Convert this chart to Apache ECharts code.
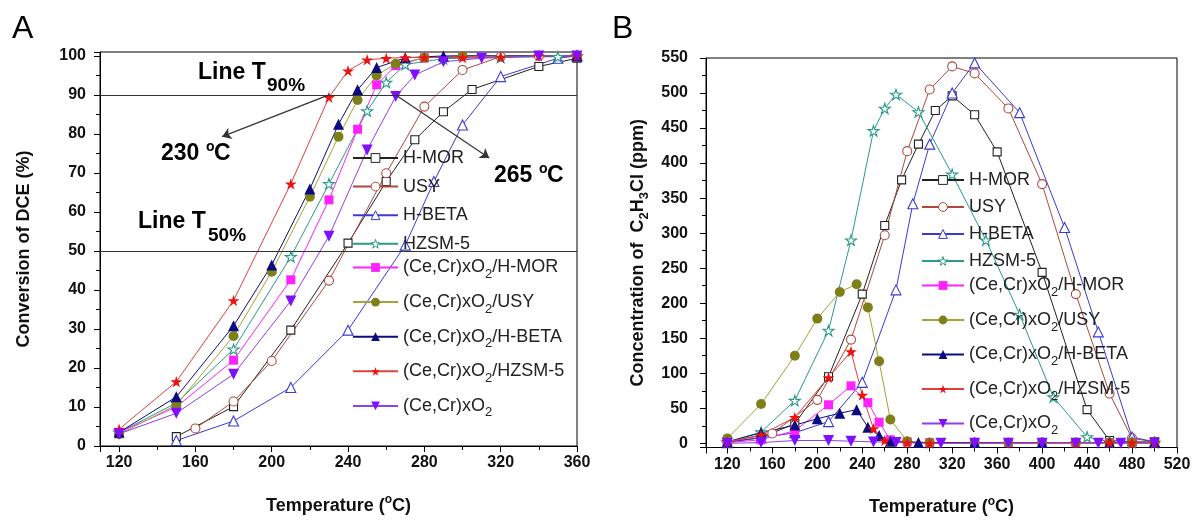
<!DOCTYPE html>
<html><head><meta charset="utf-8">
<script src="https://cdn.jsdelivr.net/npm/echarts@6/dist/echarts.min.js"></script>
<style>html,body{margin:0;padding:0;background:#fff}#c{width:1193px;height:525px}</style>
</head><body><div id="c"></div>
<script>
// ---------- names ----------
const seriesNames = ['H-MOR','USY','H-BETA','HZSM-5','(Ce,Cr)xO2/H-MOR','(Ce,Cr)xO2/USY','(Ce,Cr)xO2/H-BETA','(Ce,Cr)xO2/HZSM-5','(Ce,Cr)xO2'];

// ---------- Panel A: conversion of DCE (%) vs temperature ----------
const convHMor   = [[150,2.4],[180,10.1],[210,29.7],[240,52],[260,67.8],[275,78.5],[290,85.7],[305,91.4],[340,97.3],[360,99.4]];
const convUsy    = [[160,4.5],[180,11.4],[200,21.8],[230,42.4],[260,69.9],[280,87],[300,96.4],[320,99.8],[340,100],[360,100]];
const convHBeta  = [[150,1.4],[180,6.4],[210,15],[240,29.7],[270,51.5],[285,67.8],[300,82.3],[320,94.7],[350,99.4],[360,100]];
const convHzsm   = [[120,3.5],[150,11],[180,24.8],[210,48.5],[230,67.2],[250,85.9],[260,93.2],[270,97.8],[290,99.3],[320,99.6],[350,99.8],[360,100]];
const convCeMor  = [[120,3.5],[150,10],[180,22],[210,42.6],[230,63.1],[245,81.2],[255,92.6],[265,97.5],[280,99.5],[300,100],[360,100]];
const convCeUsy  = [[120,3],[150,10.5],[180,28.2],[200,44.7],[220,63.9],[235,79.3],[245,88.7],[255,95],[265,98],[280,99.5],[300,100],[360,100]];
const convCeBeta = [[120,3.5],[150,12.6],[180,30.8],[200,46.4],[220,65.9],[235,82.5],[245,91.3],[255,97],[270,99.5],[290,100],[360,100]];
const convCeZsm  = [[120,4.3],[150,16.5],[180,37.3],[210,67.2],[230,89.4],[240,96.2],[250,99],[260,99.4],[270,99.6],[280,99.6],[300,99.6],[320,99.7],[340,100],[360,100]];
const convCe     = [[120,3.1],[150,8.4],[180,18.4],[210,37.2],[230,53.8],[250,75.9],[265,89.6],[275,95.1],[290,98.5],[310,99.4],[340,100],[360,100]];

// ---------- Panel B: C2H3Cl concentration (ppm) vs temperature ----------
const ppmHMor   = [[120,2],[150,8],[180,28],[210,95],[240,213],[260,311],[275,376],[290,427],[305,475],[320,496],[340,469],[360,416],[400,244],[440,48],[460,4],[480,2],[500,2]];
const ppmUsy    = [[120,2],[160,14],[200,62],[230,148],[260,297],[280,417],[300,505],[320,538],[340,528],[370,478],[400,370],[430,213],[460,71],[480,7],[500,2]];
const ppmHBeta  = [[120,1],[150,8],[180,15],[210,31],[240,87],[270,219],[285,342],[300,427],[320,500],[340,543],[380,472],[420,308],[450,159],[480,9],[500,2]];
const ppmHzsm   = [[120,2],[150,16],[180,61],[210,161],[230,290],[250,446],[260,478],[270,498],[290,473],[320,384],[350,290],[380,184],[410,66],[440,9],[460,2],[480,1],[500,1]];
const ppmCeMor  = [[120,1],[150,5],[180,18],[210,55],[230,82],[245,58],[255,30],[265,5],[280,2],[300,1],[340,1],[370,1],[400,1],[430,1],[460,1],[480,1],[500,1]];
const ppmCeUsy  = [[120,7],[150,56],[180,125],[200,178],[220,216],[235,227],[245,194],[255,117],[265,34],[280,3],[300,1],[340,1],[370,1],[400,1],[430,1],[460,1],[480,1],[500,1]];
const ppmCeBeta = [[120,2],[150,15],[180,26],[200,35],[220,43],[235,48],[245,23],[255,11],[265,3],[290,1],[340,1],[400,1],[460,1],[500,1]];
const ppmCeZsm  = [[120,2],[150,12],[180,37],[210,94],[230,131],[240,69],[250,21],[260,4],[280,1],[300,0],[430,1],[460,1],[480,1],[500,1]];
const ppmCe     = [[120,0],[150,1],[180,4],[210,4],[230,3],[250,2],[270,1],[310,0],[340,0],[370,0],[400,0],[430,0],[450,0],[470,0],[500,0]];

// ---------- tick labels ----------
const xLabelsA = [120,160,200,240,280,320,360];
const yLabelsA = [0,10,20,30,40,50,60,70,80,90,100];
const xLabelsB = [120,160,200,240,280,320,360,400,440,480,520];
const yLabelsB = [0,50,100,150,200,250,300,350,400,450,500,550];

// ---------- styles ----------
const FONT = "'Liberation Sans', Arial, Helvetica, sans-serif";
const STAR = 'path://M50,0 L61,35 L98,35 L68,57 L79,91 L50,70 L21,91 L32,57 L2,35 L39,35 Z';
const styles = [
  {color:'#222222', symbol:'rect', size:8, empty:true},
  {color:'#b0483c', symbol:'circle', size:9, empty:true},
  {color:'#3a3ad8', symbol:'triangle', size:10, empty:true},
  {color:'#2a9a8a', symbol:STAR, size:11, empty:true},
  {color:'#ff22ff', symbol:'rect', size:9},
  {color:'#7f7f1a', line:'#a3a336', symbol:'circle', size:10},
  {color:'#0c0c80', symbol:'triangle', size:11},
  {color:'#ee1111', line:'#e04040', symbol:STAR, size:12},
  {color:'#7f10ff', line:'#8f3ff0', symbol:'triangle', size:11, rot:180}
];
const dataA = [convHMor, convUsy, convHBeta, convHzsm, convCeMor, convCeUsy, convCeBeta, convCeZsm, convCe];
const dataB = [ppmHMor, ppmUsy, ppmHBeta, ppmHzsm, ppmCeMor, ppmCeUsy, ppmCeBeta, ppmCeZsm, ppmCe];

function mk(i, data, xi, yi) {
  const s = styles[i];
  return {
    type:'line', name: seriesNames[i], data, xAxisIndex:xi, yAxisIndex:yi,
    symbol:s.symbol, symbolSize:s.size, symbolRotate:s.rot||0, symbolKeepAspect:true,
    showAllSymbol:true, animation:false, clip:false,
    color:s.color,
    lineStyle:{color:s.line||s.color, width:1},
    itemStyle:{color: s.empty ? '#ffffff' : s.color, borderColor:s.color, borderWidth: s.empty ? 1.1 : 0},
    emphasis:{disabled:true}
  };
}

const series = [];
dataA.forEach((d,i)=>series.push(mk(i,d,0,0)));
dataB.forEach((d,i)=>series.push(mk(i,d,2,2)));

// reference lines and arrows in panel A
series[0].markLine = {
  silent:true, animation:false, symbol:['none','none'], symbolSize:9,
  label:{show:false},
  lineStyle:{color:'#333', width:1.2, type:'solid'},
  data:[
    [{xAxis:110, yAxis:90},{xAxis:360, yAxis:90}],
    [{xAxis:110, yAxis:50},{xAxis:360, yAxis:50}],
    [{coord:[230,90], symbol:'none'},{coord:[174,79.3], symbol:'arrow'}],
    [{coord:[265,90], symbol:'none'},{coord:[314,73.8], symbol:'arrow'}]
  ]
};

const tickLabel = (list)=> (v)=> list.indexOf(Math.round(v*1000)/1000) >= 0 ? String(v) : '';
const lblStyle = {fontSize:16, fontWeight:'bold', color:'#111', fontFamily:FONT};
const lineBlack = {onZero:false, lineStyle:{color:'#000', width:1}};
const TS = 18;

function xMajor(grid, min, max, step, labels, name) {
  return {gridIndex:grid, type:'value', position:'bottom', min, max, minInterval:step, maxInterval:step,
    axisLine:lineBlack, splitLine:{show:false},
    axisTick:{show:true, length:6, inside:false, lineStyle:{color:'#000'}},
    axisLabel:Object.assign({formatter:tickLabel(labels), margin:9, showMinLabel:true, showMaxLabel:true}, lblStyle),
    name, nameLocation:'middle', nameGap:49,
    nameTextStyle:{fontSize:TS, fontWeight:'bold', color:'#111', fontFamily:FONT,
      rich:{a:{fontSize:TS, fontWeight:'bold', fontFamily:FONT, color:'#111', lineHeight:22},
            s:{fontSize:12, fontWeight:'bold', fontFamily:FONT, color:'#111', lineHeight:12, padding:[0,0,12,0]}}}
  };
}
function minorAxis(grid, min, max, step, isX) {
  return {gridIndex:grid, type:'value', position: isX ? 'bottom':'left', min, max, minInterval:step, maxInterval:step,
    axisLine:{show:false, onZero:false}, splitLine:{show:false},
    axisTick:{show:true, length:4, lineStyle:{color:'#000'}}, axisLabel:{show:false}};
}
function yMajor(grid, min, max, step, labels, name, gap, margin) {
  return {gridIndex:grid, type:'value', position:'left', min, max, minInterval:step, maxInterval:step,
    axisLine:lineBlack, splitLine:{show:false},
    axisTick:{show:true, length:6, lineStyle:{color:'#000'}},
    axisLabel:Object.assign({formatter:tickLabel(labels), margin, showMinLabel:true, showMaxLabel:true}, lblStyle),
    name, nameLocation:'middle', nameGap:gap, nameRotate:90,
    nameTextStyle:{fontSize:TS, fontWeight:'bold', color:'#111', fontFamily:FONT,
      rich:{a:{fontSize:TS, fontWeight:'bold', fontFamily:FONT, color:'#111', lineHeight:22},
            b:{fontSize:13, fontWeight:'bold', fontFamily:FONT, color:'#111', lineHeight:12, padding:[12,0,0,0]}}}
  };
}

const legendFmt = (n)=> {
  const k = n.indexOf('O2');
  if (k < 0) return '{m|' + n + '}';
  return '{m|' + n.slice(0,k+1) + '}{sub|2}' + (n.length > k+2 ? '{m|' + n.slice(k+2) + '}' : '');
};
function legendItems(names) {
  return names.map(n => {
    const s = styles[seriesNames.indexOf(n)];
    return s.empty ? {name:n, itemStyle:{color:'#ffffff', borderColor:s.color, borderWidth:1}} : {name:n, itemStyle:{borderWidth:0}};
  });
}
function legend(left, top, names, gap, itemWidth) {
  return {left, top, orient:'vertical', padding:0, itemGap:gap, itemWidth, itemHeight:11,
    data:legendItems(names), selectedMode:false, formatter:legendFmt,
    textStyle:{fontSize:18, color:'#222', fontFamily:FONT, lineHeight:20,
      rich:{m:{fontSize:18, color:'#222', fontFamily:FONT, lineHeight:20},
            sub:{fontSize:13, color:'#222', fontFamily:FONT, lineHeight:14, padding:[14,0,0,0]}}}};
}

function txt(x, y, text, size, weight) {
  return {type:'text', silent:true, style:{x, y, text, font:(weight||'bold')+' '+size+'px '+FONT,
    fill:'#000', align:'left', verticalAlign:'middle', textAlign:'left', textVerticalAlign:'middle'}};
}

const option = {
  backgroundColor:'#fff',
  animation:false,
  grid:[
    {left:100, top:52, width:477, height:394, show:true, borderColor:'#000', borderWidth:1, containLabel:false, outerBoundsMode:'none'},
    {left:706, top:58, width:471, height:389.5, show:true, borderColor:'#000', borderWidth:1, containLabel:false, outerBoundsMode:'none'}
  ],
  xAxis:[
    xMajor(0, 110, 360, 40, xLabelsA, '{a|Temperature (}{s|o}{a|C)}'),
    minorAxis(0, 110, 360, 20, true),
    xMajor(1, 101, 520, 40, xLabelsB, '{a|Temperature (}{s|o}{a|C)}'),
    minorAxis(1, 101, 520, 20, true)
  ],
  yAxis:[
    yMajor(0, 0, 101, 10, yLabelsA, '{a|Conversion of DCE (%)}', 65, 14),
    minorAxis(0, 0, 101, 5, false),
    yMajor(1, -6, 550, 50, yLabelsB, '{a|Concentration of  C}{b|2}{a|H}{b|3}{a|Cl (ppm)}', 57, 18),
    minorAxis(1, -6, 550, 25, false)
  ],
  legend:[
    legend(352, 148, seriesNames.slice(0,4), 8.6, 45),
    legend(352, 254, seriesNames.slice(4), 7.6, 45),
    legend(921, 170, seriesNames.slice(0,4), 7, 42),
    legend(921, 272, seriesNames.slice(4), 7.5, 42)
  ],
  graphic:[
    txt(12, 29, 'A', 32, 'normal'),
    txt(612, 29, 'B', 32, 'normal'),
    txt(198, 73, 'Line T', 23),
    txt(267, 86, '90%', 19),
    txt(138, 222, 'Line T', 23),
    txt(208, 236, '50%', 19),
    txt(161, 154, '230 ', 23),
    txt(206, 147, 'o', 14),
    txt(214, 154, 'C', 23),
    txt(494, 176, '265 ', 23),
    txt(539, 169, 'o', 14),
    txt(547, 176, 'C', 23)
  ],
  series
};
const chart = echarts.init(document.getElementById('c'), null, {renderer:'canvas'});
chart.setOption(option);
</script>
</body></html>
